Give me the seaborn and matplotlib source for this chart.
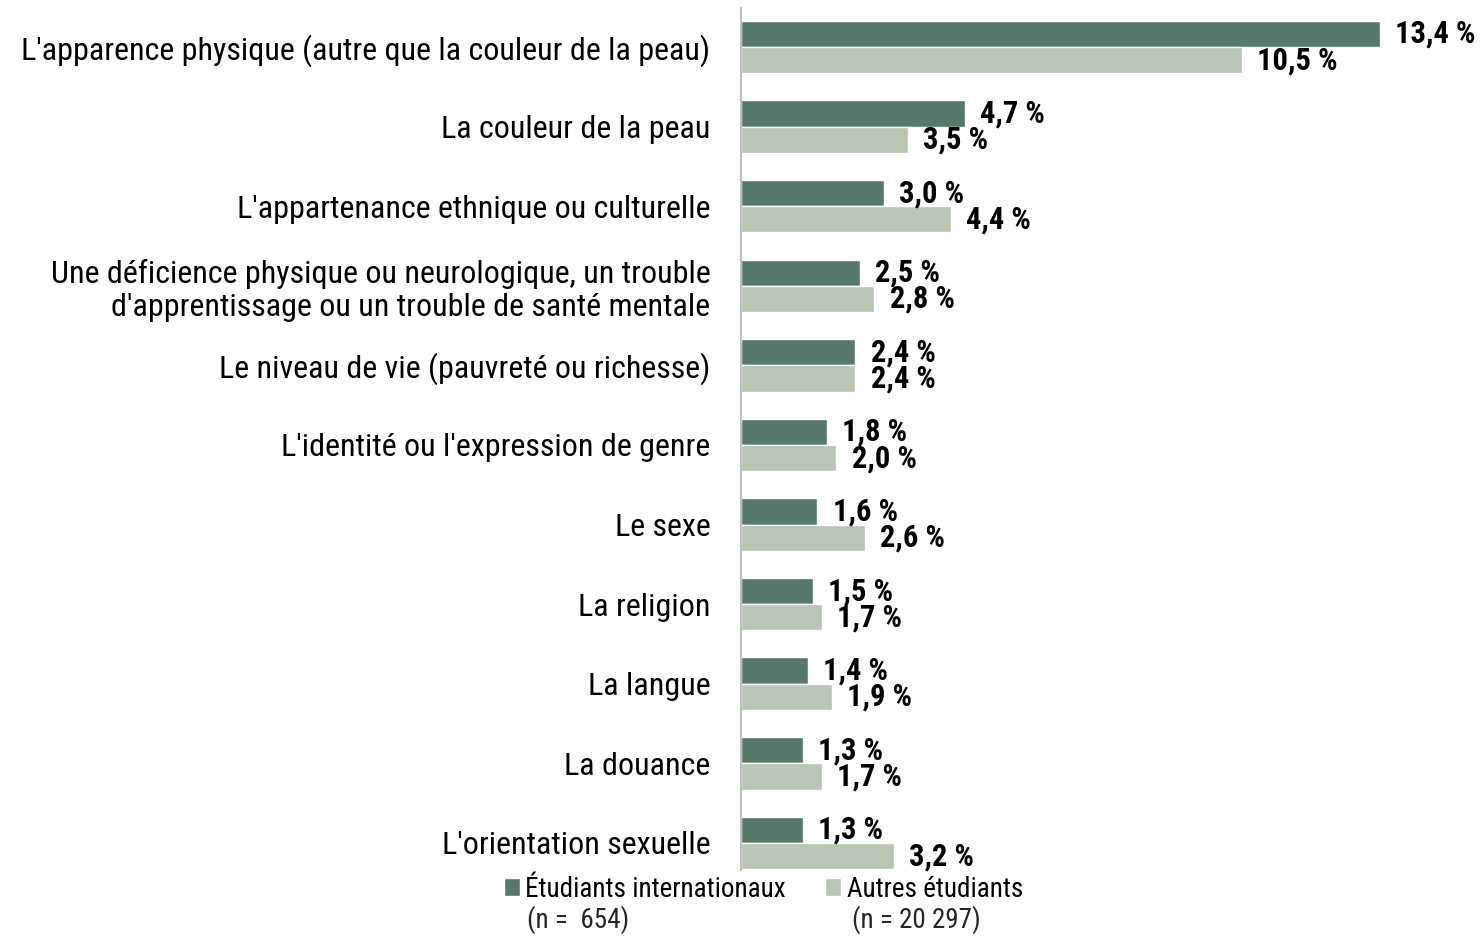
import pandas as pd
import seaborn as sns
import matplotlib.pyplot as plt

# données
categories = [
    "L'apparence physique (autre que la couleur de la peau)",
    "La couleur de la peau",
    "L'appartenance ethnique ou culturelle",
    "Une déficience physique ou neurologique, un trouble\nd'apprentissage ou un trouble de santé mentale",
    "Le niveau de vie (pauvreté ou richesse)",
    "L'identité ou l'expression de genre",
    "Le sexe",
    "La religion",
    "La langue",
    "La douance",
    "L'orientation sexuelle",
]
internationaux = [13.4, 4.7, 3.0, 2.5, 2.4, 1.8, 1.6, 1.5, 1.4, 1.3, 1.3]
autres = [10.5, 3.5, 4.4, 2.8, 2.4, 2.0, 2.6, 1.7, 1.9, 1.7, 3.2]
series = ["Étudiants internationaux", "Autres étudiants"]
effectifs = ["(n =  654)", "(n = 20 297)"]
colors = ["#56796A", "#B9C6B4"]

df = pd.DataFrame({
    "Motif": categories * 2,
    "Valeur": internationaux + autres,
    "Groupe": [series[0]] * len(categories) + [series[1]] * len(categories),
})

sns.set_style("white")
plt.rcParams['font.family'] = ['Roboto Condensed', 'DejaVu Sans']

fig = plt.figure(figsize=(14.8, 9.36), dpi=100)
ax = fig.add_axes([741 / 1480, 66 / 936, 739 / 1480, 862 / 936])

sns.barplot(data=df, y="Motif", x="Valeur", hue="Groupe", orient="h",
            palette=colors, width=0.66, saturation=1, ax=ax, legend=True)

# étiquettes de valeurs
for cont in ax.containers:
    labels = [f"{b.get_width():.1f} %".replace('.', ',') for b in cont]
    ax.bar_label(cont, labels=labels, padding=11, fontsize=22,
                 fontweight='bold', color='black')

ax.set_xlim(0, 15.5)
ax.set_ylim(10.34, -0.49)
ax.set_xlabel("")
ax.set_ylabel("")
ax.set_xticks([])
ax.tick_params(axis='y', length=0, pad=22, labelsize=23, labelcolor='black')
for lab in ax.get_yticklabels():
    lab.set_linespacing(1.15)
for s in ["top", "right", "bottom"]:
    ax.spines[s].set_visible(False)
ax.spines["left"].set_color("#BFBFBF")
ax.spines["left"].set_linewidth(1.5)

# légende
ax.get_legend().remove()
handles = ax.containers
fig.legend(handles, series, loc="upper left", bbox_to_anchor=(490 / 1480, 1 - 862 / 936),
           ncol=2, frameon=False, fontsize=19.5, handlelength=0.6, handleheight=0.6,
           handletextpad=0.2, columnspacing=1.45, borderpad=0, labelcolor='black')
fig.text(527 / 1480, 1 - 920 / 936, effectifs[0], fontsize=19.5, va='center')
fig.text(852 / 1480, 1 - 920 / 936, effectifs[1], fontsize=19.5, va='center')

fig.savefig("out.png", dpi=100)
